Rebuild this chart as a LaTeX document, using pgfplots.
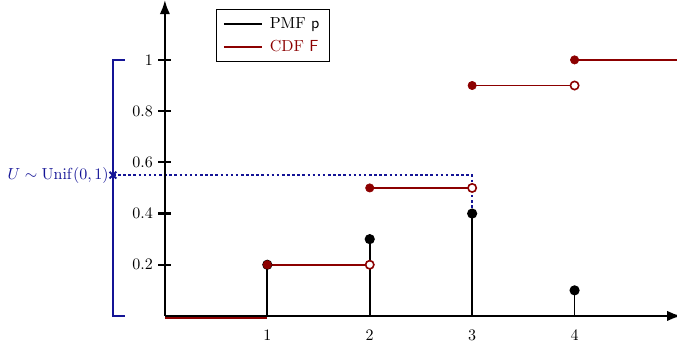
\documentclass[border=0pt]{standalone}
\usepackage{pgfplots}
\pgfplotsset{compat=1.18}
\usetikzlibrary{arrows.meta}
\definecolor{cdfred}{RGB}{140,0,0}
\definecolor{ublue}{RGB}{20,20,150}
\begin{document}
\begin{tikzpicture}
\begin{axis}[
  x=64pt, y=160pt,
  xmin=0, xmax=5, ymin=0, ymax=1.2,
  enlargelimits=false,
  clip=false,
  axis lines=middle,
  axis line style={draw=none},
  xtick={1,2,3,4},
  ytick={0.2,0.4,0.6,0.8,1},
  xtick style={draw=none},
  ytick style={black, line width=1.4pt},
  major tick length=8pt,
  xticklabel style={yshift=-1.5pt},
  legend style={at={(axis cs:0.5,1.2)}, anchor=north west, draw=black, line width=0.5pt, font=\normalsize, row sep=2pt, column sep=2pt, inner xsep=4pt, inner ysep=3pt},
  legend image code/.code={\draw[#1] (0.1cm,0cm) -- (0.95cm,0cm);},
  legend cell align=left,
]
\coordinate (bbl) at (axis cs:-1.61,-0.102);
\coordinate (btr) at (axis cs:5.0,1.234);
\addlegendimage{black, line width=1.1pt}
\addlegendentry{PMF $\mathsf{p}$}
\addlegendimage{cdfred, line width=1.1pt}
\addlegendentry{\textcolor{cdfred}{CDF $\mathsf{F}$}}

% bracket and U
\addplot[ublue, line width=1.1pt, forget plot] coordinates {(-0.39,0) (-0.507,0) (-0.507,1) (-0.39,1)};
\addplot[ublue, line width=1.1pt, dash pattern=on 1.6pt off 1.6pt, forget plot] coordinates {(-0.507,0.55) (3,0.55) (3,0)};
\addplot[ublue, line width=1.2pt, only marks, mark=x, mark size=3pt, forget plot] coordinates {(-0.507,0.55)};
\node[anchor=east, text=ublue, inner sep=1pt] at (axis cs:-0.53,0.55) {$U\sim\mathrm{Unif}(0,1)$};

% CDF first segment (under axis)
\addplot[cdfred, line width=1.1pt, forget plot] coordinates {(0,-0.007) (1,-0.007)};

% axis lines
\draw[line width=1.6pt, -{Latex[length=9pt,width=6.5pt]}] (axis cs:0,0) -- (axis cs:5.045,0);
\draw[line width=1.6pt, -{Latex[length=9pt,width=6.5pt]}] (axis cs:0,0) -- (axis cs:0,1.235);

% PMF stems
\addplot[ycomb, black, line width=1.1pt, mark=*, mark size=2.6pt, mark options={fill=black}, forget plot]
  coordinates {(1,0.2) (2,0.3) (3,0.4) (4,0.1)};

% CDF segments
\addplot[cdfred, line width=1.1pt, forget plot] coordinates {(1,0.2) (2,0.2)};
\addplot[cdfred, line width=1.1pt, forget plot] coordinates {(2,0.5) (3,0.5)};
\addplot[cdfred, line width=1.1pt, forget plot] coordinates {(3,0.9) (4,0.9)};
\addplot[cdfred, line width=1.1pt, forget plot] coordinates {(4,1) (5.05,1)};
\addplot[cdfred, only marks, mark=*, mark size=2.6pt, mark options={fill=cdfred, draw=cdfred}, forget plot]
  coordinates {(1,0.2) (2,0.5) (3,0.9) (4,1)};
\addplot[cdfred, only marks, mark=*, mark size=2.6pt, mark options={fill=white, draw=cdfred, line width=1pt}, forget plot]
  coordinates {(2,0.2) (3,0.5) (4,0.9)};
\end{axis}
\pgfresetboundingbox
\path[use as bounding box] (bbl) rectangle (btr);
\end{tikzpicture}
\end{document}
